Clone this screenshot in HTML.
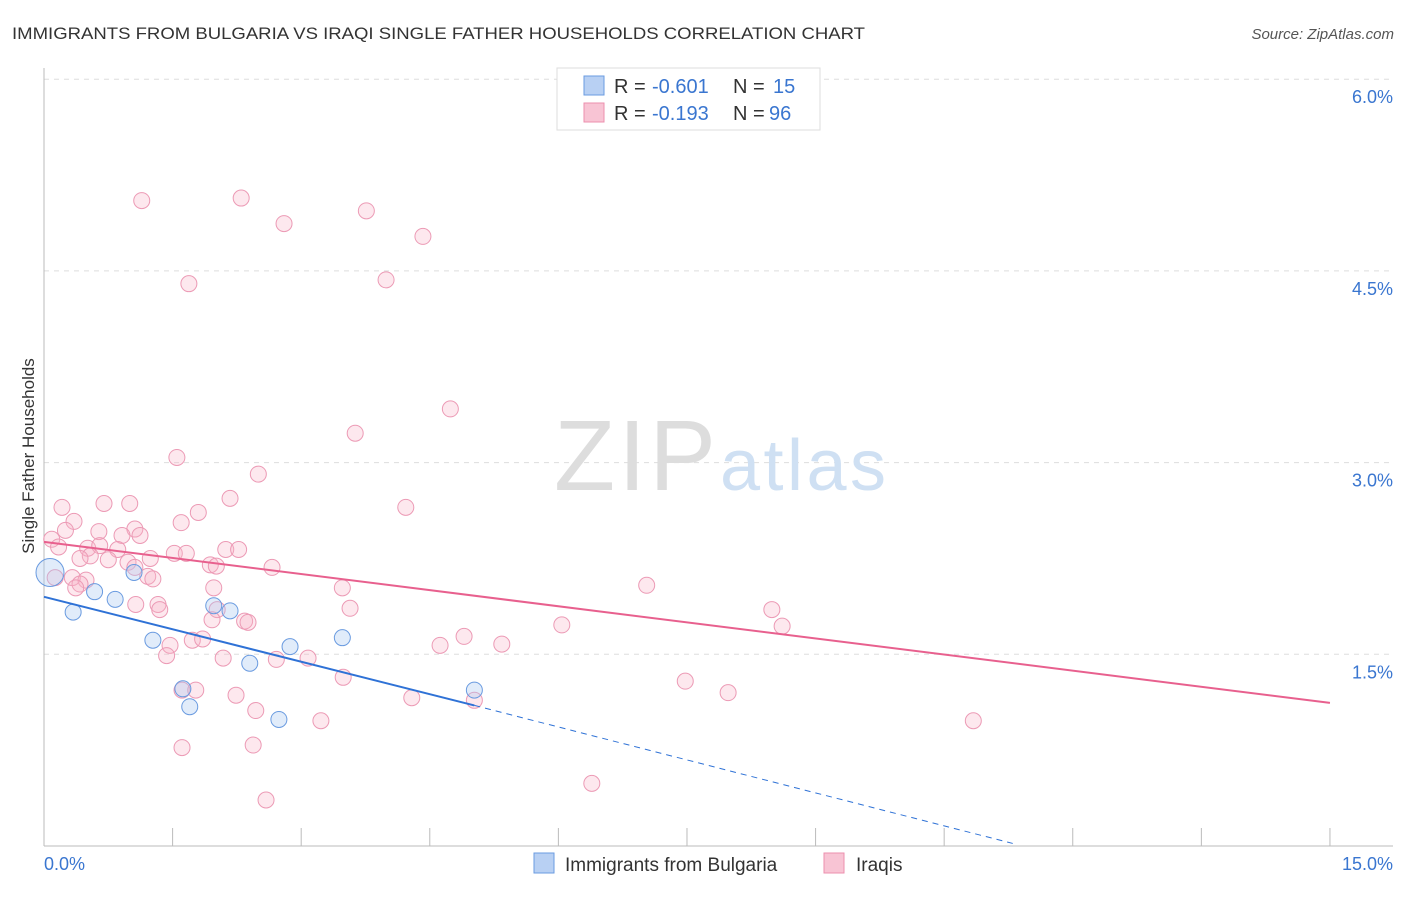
<!DOCTYPE html>
<html><head><meta charset="utf-8"><style>
body{margin:0;background:#fff;font-family:"Liberation Sans",sans-serif}
svg text{font-family:"Liberation Sans",sans-serif}
</style></head><body>
<svg id="c" width="1406" height="892" xmlns="http://www.w3.org/2000/svg">
<text x="12" y="39" font-size="17" fill="#333" textLength="853" lengthAdjust="spacingAndGlyphs">IMMIGRANTS FROM BULGARIA VS IRAQI SINGLE FATHER HOUSEHOLDS CORRELATION CHART</text>
<text x="1394" y="39" font-size="15" fill="#555" font-style="italic" text-anchor="end">Source: ZipAtlas.com</text>
<text x="34" y="456" font-size="17" fill="#333" text-anchor="middle" transform="rotate(-90 34 456)">Single Father Households</text>
<g id="grid"></g>
<text x="716" y="490" font-size="100" fill="#ddd" text-anchor="end" font-family="Liberation Serif" textLength="162">ZIP</text>
<text x="720" y="490" font-size="72" fill="#cfe0f3" textLength="166">atlas</text>
<g id="pts"></g>
<g id="lines"></g>
<g>
<rect x="557" y="68" width="263" height="62" fill="#fff" stroke="#ddd"/>
<rect x="584" y="76" width="20" height="19" fill="#b8d0f3" stroke="#6a9be0"/>
<rect x="584" y="103" width="20" height="19" fill="#f8c4d4" stroke="#ec8fae"/>
<text x="614" y="93" font-size="20" fill="#333">R =</text>
<text x="652" y="93" font-size="20" fill="#3a76d0">-0.601</text>
<text x="733" y="93" font-size="20" fill="#333">N =</text>
<text x="773" y="93" font-size="20" fill="#3a76d0">15</text>
<text x="614" y="120" font-size="20" fill="#333">R =</text>
<text x="652" y="120" font-size="20" fill="#3a76d0">-0.193</text>
<text x="733" y="120" font-size="20" fill="#333">N =</text>
<text x="769" y="120" font-size="20" fill="#3a76d0">96</text>
</g>
<g>
<rect x="534" y="853" width="20" height="20" fill="#b8d0f3" stroke="#6a9be0"/>
<text x="565" y="871" font-size="19" fill="#333">Immigrants from Bulgaria</text>
<rect x="824" y="853" width="20" height="20" fill="#f8c4d4" stroke="#ec8fae"/>
<text x="856" y="871" font-size="19" fill="#333">Iraqis</text>
</g>
</svg>
<script>
const yTicks=[1.5,3.0,4.5,6.0];
const xTickLabels=["0.0%","15.0%"];
const blueX=[0.07,0.34,0.59,0.83,1.05,1.27,1.62,1.70,1.98,2.17,2.40,2.74,2.87,3.48,5.02];
const blueY=[2.14,1.83,1.99,1.93,2.14,1.61,1.23,1.09,1.88,1.84,1.43,0.99,1.56,1.63,1.22];
const pinkX=[1.14,2.30,2.80,3.76,4.42,1.69,3.99,4.74,3.63,1.55,2.50,4.22,0.21,0.70,1.00,2.17,1.80,1.60,0.35,0.64,0.25,1.06,1.12,0.91,0.09,0.17,0.51,0.86,0.65,1.52,1.66,2.12,2.27,1.24,0.54,0.42,0.75,0.98,1.06,1.94,2.66,2.01,0.33,0.49,0.13,1.21,1.27,0.42,1.98,3.48,7.03,0.37,1.33,1.35,3.57,1.07,2.02,2.34,2.38,8.49,8.61,6.04,4.90,4.62,5.34,1.73,1.85,1.47,1.43,2.09,3.08,2.71,3.49,7.48,1.61,1.77,2.24,7.98,4.29,5.02,2.47,3.23,10.84,1.61,2.44,2.59,6.39,1.96];
const pinkY=[5.05,5.07,4.87,4.97,4.77,4.40,4.43,3.42,3.23,3.04,2.91,2.65,2.65,2.68,2.68,2.72,2.61,2.53,2.54,2.46,2.47,2.48,2.43,2.43,2.40,2.34,2.33,2.32,2.35,2.29,2.29,2.32,2.32,2.25,2.27,2.25,2.24,2.22,2.18,2.20,2.18,2.19,2.10,2.08,2.10,2.11,2.09,2.05,2.02,2.02,2.04,2.02,1.89,1.85,1.86,1.89,1.85,1.76,1.75,1.85,1.72,1.73,1.64,1.57,1.58,1.61,1.62,1.57,1.49,1.47,1.47,1.46,1.32,1.29,1.22,1.22,1.18,1.20,1.16,1.14,1.06,0.98,0.98,0.77,0.79,0.36,0.49,1.77];
const blueTrend=[[0,1.95],[5.02,1.10],[11.3,0.02]];
const pinkTrend=[[0,2.38],[15,1.12]];
const X=v=>44+v*85.73, Y=v=>846-v*127.8;
const NS="http://www.w3.org/2000/svg";
function mk(t,a,p){const e=document.createElementNS(NS,t);for(const k in a)e.setAttribute(k,a[k]);p.appendChild(e);return e;}
const g=document.getElementById('grid');
for(const t of yTicks){const l=mk('line',{x1:44,x2:1393,y1:Y(t),y2:Y(t),stroke:'#ddd','stroke-dasharray':'5,5'},g);


const tx=mk('text',{x:1393,y:Y(t)+24,'font-size':18,fill:'#3a76d0','text-anchor':'end'},g);tx.textContent=t.toFixed(1)+'%';

}
mk('line',{x1:44,x2:44,y1:68,y2:846,stroke:'#bbb'},g);
mk('line',{x1:44,x2:1393,y1:846,y2:846,stroke:'#bbb'},g);
for(let i=0;i<=10;i++){mk('line',{x1:X(i*1.5),x2:X(i*1.5),y1:828,y2:846,stroke:'#bbb'},g);}
const t0=mk('text',{x:44,y:870,'font-size':18,fill:'#3a76d0'},g);t0.textContent=xTickLabels[0];


const t1=mk('text',{x:1393,y:870,'font-size':18,fill:'#3a76d0','text-anchor':'end'},g);t1.textContent=xTickLabels[1];


const P=document.getElementById('pts');
pinkX.forEach((x,i)=>{const c=mk('circle',{cx:X(x),cy:Y(pinkY[i]),r:8,fill:'rgba(248,180,200,0.3)',stroke:'#ec9ab5','stroke-width':1},P);

});
blueX.forEach((x,i)=>{const c=mk('circle',{cx:X(x),cy:Y(blueY[i]),r:i==0?14:8,fill:'rgba(170,200,240,0.35)',stroke:'#6a9be0','stroke-width':1},P);

});
const L=document.getElementById('lines');
const b1=mk('line',{x1:X(blueTrend[0][0]),y1:Y(blueTrend[0][1]),x2:X(blueTrend[1][0]),y2:Y(blueTrend[1][1]),stroke:'#2f72d6','stroke-width':2},L);


const b2=mk('line',{x1:X(blueTrend[1][0]),y1:Y(blueTrend[1][1]),x2:X(blueTrend[2][0]),y2:Y(blueTrend[2][1]),stroke:'#2f72d6','stroke-width':1,'stroke-dasharray':'6,5'},L);


const p1=mk('line',{x1:X(pinkTrend[0][0]),y1:Y(pinkTrend[0][1]),x2:X(pinkTrend[1][0]),y2:Y(pinkTrend[1][1]),stroke:'#e8608e','stroke-width':2},L);


</script>
</body></html>
